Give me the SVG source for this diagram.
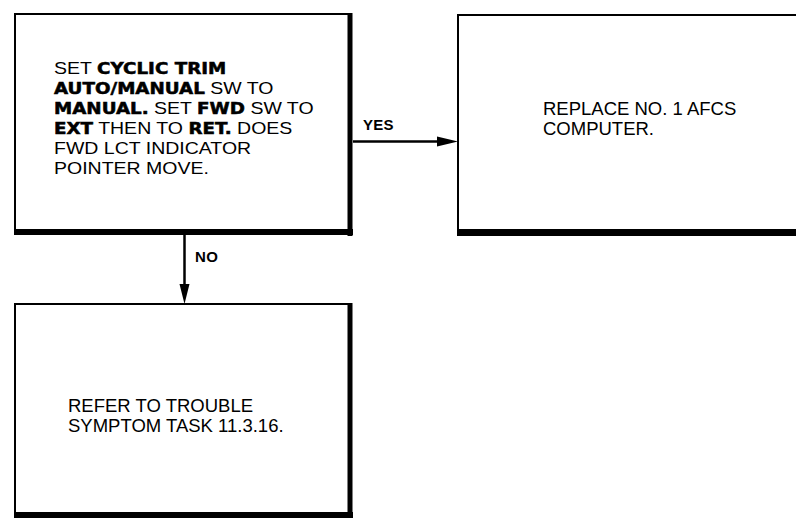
<svg xmlns="http://www.w3.org/2000/svg" width="796" height="519" viewBox="0 0 796 519">
  <style>
    .box { fill: #fff; stroke: #000; stroke-width: 2; }
    .thick { stroke: #000; fill: none; }
    .t { font-family: "Liberation Sans", Arial, sans-serif; fill: #000; }
    .r { font-family: "Liberation Sans", Arial, sans-serif; font-size: 16px; }
    .b { font-family: "DejaVu Sans", "Liberation Sans", sans-serif; font-weight: bold; font-size: 15px; stroke: #000; stroke-width: 0.5; }
    .big { font-size: 18.5px; }
    .lbl { font-family: "Liberation Sans", Arial, sans-serif; font-weight: bold; font-size: 15px; letter-spacing: 0.3px; fill: #000; }
    .conn { stroke: #000; stroke-width: 2.5; fill: none; }
  </style>
  <rect width="796" height="519" fill="#fff"/>

  <g id="node-check">
    <rect class="box" x="15" y="14" width="334" height="216"/>
    <line class="thick" x1="350" y1="13" x2="350" y2="236" stroke-width="5"/>
    <line class="thick" x1="14" y1="232" x2="353" y2="232" stroke-width="6"/>
    <g transform="translate(54,0) scale(1.22,1)">
      <text class="t r" x="0" y="74">SET <tspan class="b">CYCLIC TRIM</tspan></text>
      <text class="t r" x="0" y="94"><tspan class="b">AUTO/MANUAL</tspan> SW TO</text>
      <text class="t r" x="0" y="114"><tspan class="b">MANUAL.</tspan> SET <tspan class="b">FWD</tspan> SW TO</text>
      <text class="t r" x="0" y="134"><tspan class="b">EXT</tspan> THEN TO <tspan class="b">RET.</tspan> DOES</text>
      <text class="t r" x="0" y="154">FWD LCT INDICATOR</text>
      <text class="t r" x="0" y="174">POINTER MOVE.</text>
    </g>
  </g>

  <g id="node-replace">
    <rect class="box" x="458" y="15" width="350" height="215"/>
    <line class="thick" x1="457" y1="233" x2="800" y2="233" stroke-width="6"/>
    <text class="t big" x="543" y="115">REPLACE NO. 1 AFCS</text>
    <text class="t big" x="543" y="135">COMPUTER.</text>
  </g>

  <g id="node-refer">
    <rect class="box" x="15" y="304" width="334" height="209"/>
    <line class="thick" x1="350" y1="303" x2="350" y2="518" stroke-width="5"/>
    <line class="thick" x1="14" y1="515" x2="353" y2="515" stroke-width="6"/>
    <text class="t big" x="68" y="412">REFER TO TROUBLE</text>
    <text class="t big" x="68" y="432">SYMPTOM TASK 11.3.16.</text>
  </g>

  <g id="connectors">
    <line class="conn" x1="353" y1="141.5" x2="440" y2="141.5"/>
    <polygon points="437,136.5 458,141.5 437,146.5" fill="#000"/>
    <text class="lbl" x="363" y="130">YES</text>
    <line class="conn" x1="184.5" y1="235" x2="184.5" y2="286"/>
    <polygon points="179.5,284 184.5,304 189.5,284" fill="#000"/>
    <text class="lbl" x="195" y="262">NO</text>
  </g>
</svg>
